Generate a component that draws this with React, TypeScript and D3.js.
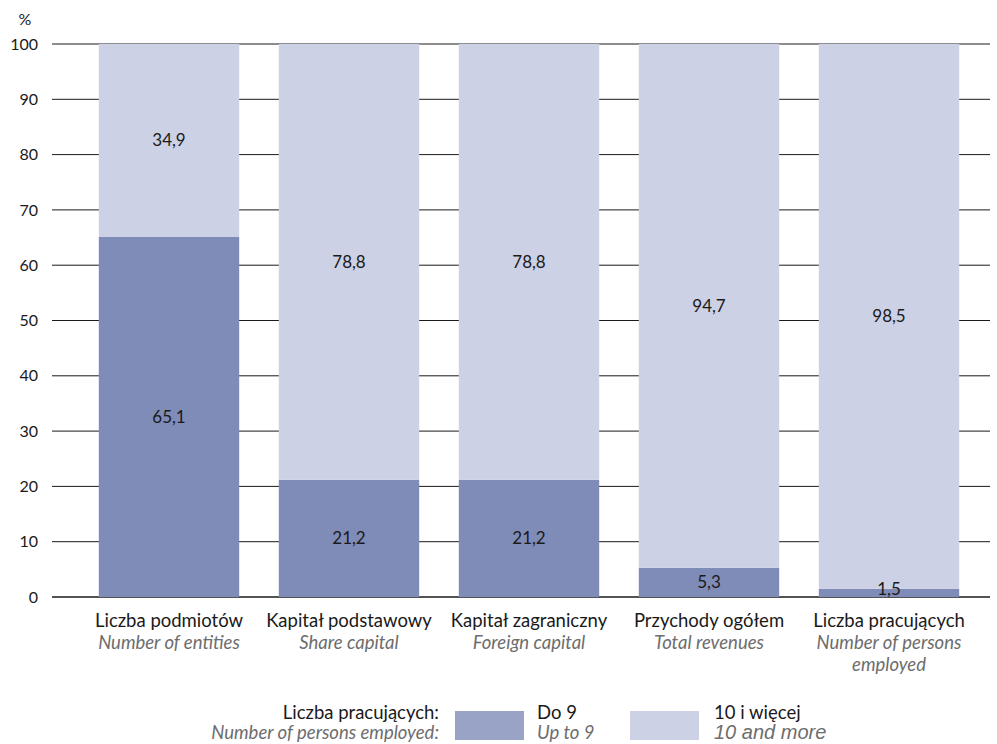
import React from "react";
import * as d3 from "d3";

const categoriesPl = ["Liczba podmiotów", "Kapitał podstawowy", "Kapitał zagraniczny", "Przychody ogółem", "Liczba pracujących"];
const categoriesEn = [["Number of entities"], ["Share capital"], ["Foreign capital"], ["Total revenues"], ["Number of persons", "employed"]];
const upTo9 = [65.1, 21.2, 21.2, 5.3, 1.5];
const tenAndMore = [34.9, 78.8, 78.8, 94.7, 98.5];
const yTicks = [0, 10, 20, 30, 40, 50, 60, 70, 80, 90, 100];

const DARK = "#7f8cb8";
const LIGHT = "#ccd1e5";
const FONT = "Lato, 'Open Sans', sans-serif";
const FS = 18.5;

const fmt = (v: number) => v.toFixed(1).replace(".", ",");

export default function App() {
  const W = 997, H = 744;
  const x = d3.scaleBand<number>().domain(d3.range(5)).range([79, 979]).paddingInner(0.22).paddingOuter(0.11);
  const y = d3.scaleLinear().domain([0, 100]).range([597, 44]);
  return (
    <svg width={W} height={H} style={{ position: "absolute", left: 0, top: 0, background: "#fff" }} fontFamily={FONT}>
      <text x={25} y={25} fontSize={16} textAnchor="middle" fill="#1a1a1a">%</text>
      {yTicks.map((t) => (
        <g key={t}>
          <line x1={52} x2={990} y1={y(t)} y2={y(t)} stroke="#1a1a1a" strokeWidth={t === 0 ? 1.6 : 1} />
          <text x={38} y={y(t)} dy="0.35em" fontSize={16} textAnchor="end" fill="#1a1a1a">{t}</text>
        </g>
      ))}
      {upTo9.map((v, i) => {
        const x0 = x(i)!;
        const bw = x.bandwidth();
        const cx = x0 + bw / 2;
        const v2 = tenAndMore[i];
        return (
          <g key={i}>
            <rect x={x0} width={bw} y={y(v)} height={y(0) - y(v)} fill={DARK} />
            <rect x={x0} width={bw} y={y(v + v2)} height={y(v) - y(v + v2)} fill={LIGHT} />
            <text x={cx} y={(y(0) + y(v)) / 2} dy={v < 3 ? "0.15em" : "0.35em"} fontSize={17} textAnchor="middle" fill="#1a1a1a">{fmt(v)}</text>
            <text x={cx} y={(y(v) + y(v + v2)) / 2} dy="0.35em" fontSize={17} textAnchor="middle" fill="#1a1a1a">{fmt(v2)}</text>
            <text x={cx} y={627} fontSize={FS} textAnchor="middle" fill="#1a1a1a">{categoriesPl[i]}</text>
            {categoriesEn[i].map((l, j) => (
              <text key={j} x={cx} y={649 + j * 22} fontSize={FS} fontStyle="italic" textAnchor="middle" fill="#6d6d6d">{l}</text>
            ))}
          </g>
        );
      })}
      <text x={439} y={719} fontSize={FS} textAnchor="end" fill="#1a1a1a">Liczba pracujących:</text>
      <text x={439} y={739} fontSize={FS} fontStyle="italic" textAnchor="end" fill="#6d6d6d">Number of persons employed:</text>
      <rect x={455} y={711} width={69} height={29} fill="#99a3c6" />
      <text x={537} y={719} fontSize={FS} fill="#1a1a1a">Do 9</text>
      <text x={537} y={739} fontSize={FS} fontStyle="italic" fill="#6d6d6d">Up to 9</text>
      <rect x={630} y={711} width={69} height={29} fill={LIGHT} />
      <text x={714} y={719} fontSize={FS} fill="#1a1a1a">10 i więcej</text>
      <text x={714} y={739} fontSize={20} fontStyle="italic" fontFamily="'Liberation Sans', Arial, sans-serif" fill="#6d6d6d">10 and more</text>
    </svg>
  );
}
